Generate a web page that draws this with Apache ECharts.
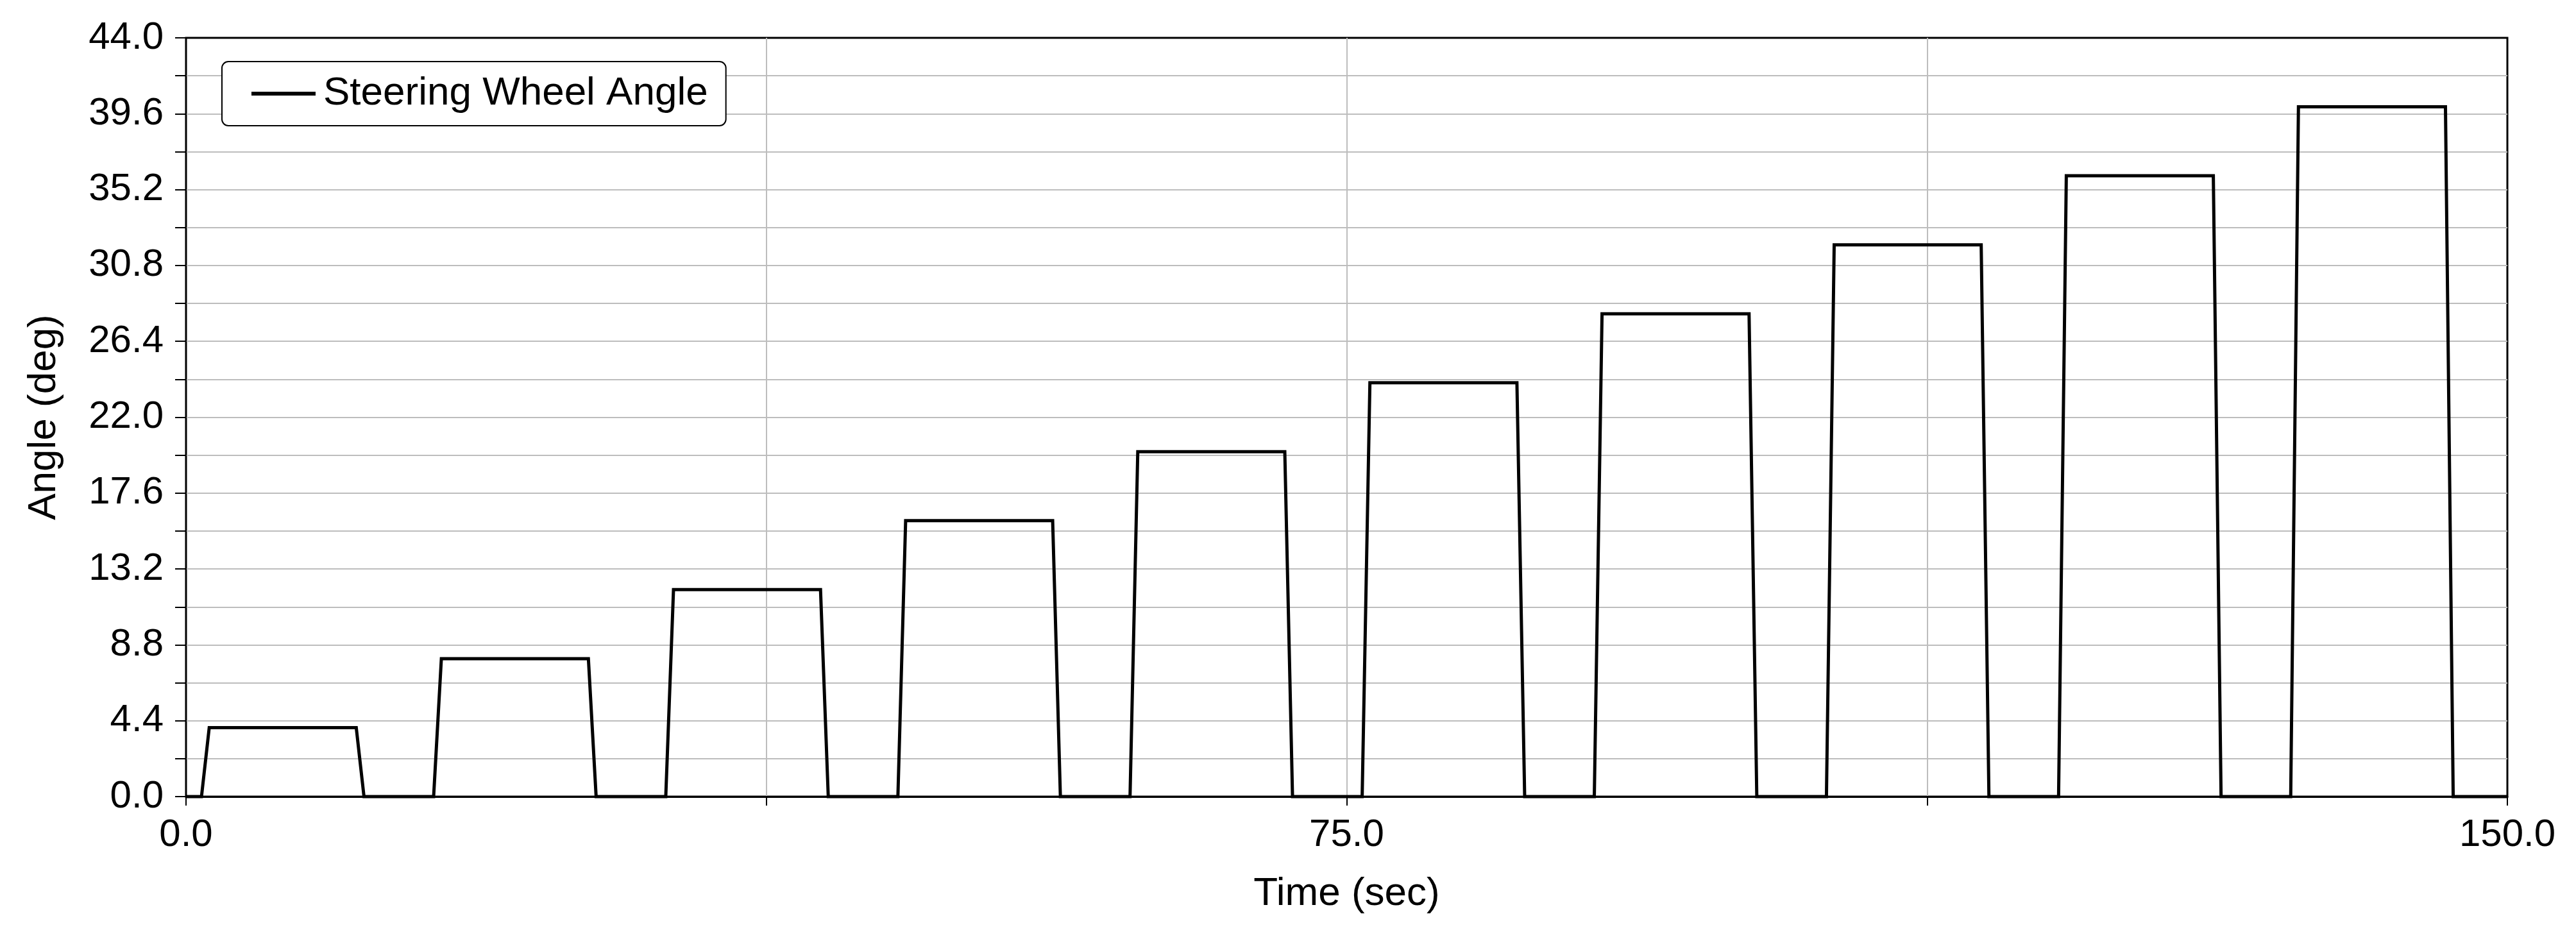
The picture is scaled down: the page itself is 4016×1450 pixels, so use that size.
<!DOCTYPE html>
<html>
<head>
<meta charset="utf-8">
<script src="https://cdn.jsdelivr.net/npm/echarts@6/dist/echarts.min.js"></script>
<style>
  html, body { margin: 0; padding: 0; background: #fff; }
  #chart { width: 4016px; height: 1450px; }
</style>
</head>
<body>
<div id="chart"></div>
<script>
// Steering wheel angle vs time
const seriesName = 'Steering Wheel Angle';
const timeSec = [0,
  1, 1.5, 11, 11.5,
  16, 16.5, 26, 26.5,
  31, 31.5, 41, 41.5,
  46, 46.5, 56, 56.5,
  61, 61.5, 71, 71.5,
  76, 76.5, 86, 86.5,
  91, 91.5, 101, 101.5,
  106, 106.5, 116, 116.5,
  121, 121.5, 131, 131.5,
  136, 136.5, 146, 146.5,
  150];
const angleDeg = [0,
  0, 4, 4, 0,
  0, 8, 8, 0,
  0, 12, 12, 0,
  0, 16, 16, 0,
  0, 20, 20, 0,
  0, 24, 24, 0,
  0, 28, 28, 0,
  0, 32, 32, 0,
  0, 36, 36, 0,
  0, 40, 40, 0,
  0];
const xLabelTicks = [0, 75, 150];

const chart = echarts.init(document.getElementById('chart'));
const font = '"Liberation Sans", Arial, sans-serif';

let points = timeSec.map((t, i) => [t, angleDeg[i]]);

let option = {
    backgroundColor: '#fff',
    animation: false,
    textStyle: { fontFamily: font, color: '#000' },
    grid: {
        left: 290,
        right: 107,
        top: 59,
        bottom: 208,
        show: true,
        borderColor: '#000',
        borderWidth: 3,
        backgroundColor: 'transparent'
    },
    legend: {
        left: 346,
        top: 96,
        padding: [11, 28, 11, 46],
        icon: 'rect',
        itemWidth: 100,
        itemHeight: 6,
        borderColor: '#000',
        borderWidth: 2,
        borderRadius: 10,
        backgroundColor: '#fff',
        itemStyle: { color: '#000' },
        textStyle: {
            fontFamily: font,
            fontSize: 62,
            color: '#000',
            lineHeight: 64,
            padding: [14, 0, 0, 7]
        },
        data: [seriesName]
    },
    xAxis: {
        type: 'value',
        min: 0,
        max: 150,
        interval: 37.5,
        name: 'Time (sec)',
        nameLocation: 'middle',
        nameGap: 121,
        nameTextStyle: { fontFamily: font, fontSize: 62, color: '#000' },
        axisLine: { show: true, lineStyle: { color: '#000', width: 3 } },
        axisTick: { show: true, length: 14, lineStyle: { color: '#000', width: 2 } },
        axisLabel: {
            margin: 30,
            fontFamily: font,
            fontSize: 60,
            color: '#000',
            showMinLabel: true,
            showMaxLabel: true,
            formatter: v => xLabelTicks.includes(v) ? v.toFixed(1) : ''
        },
        splitLine: {
            show: true,
            showMinLine: false,
            showMaxLine: false,
            lineStyle: { color: '#bdbdbd', width: 2 }
        }
    },
    yAxis: {
        type: 'value',
        min: 0,
        max: 44,
        interval: 4.4,
        name: 'Angle (deg)',
        nameLocation: 'middle',
        nameGap: 190,
        nameTextStyle: { fontFamily: font, fontSize: 62, color: '#000' },
        axisLine: { show: true, lineStyle: { color: '#000', width: 2 } },
        axisTick: { show: true, length: 17, lineStyle: { color: '#000', width: 2 } },
        minorTick: { show: true, splitNumber: 2, length: 17, lineStyle: { color: '#000', width: 2 } },
        axisLabel: {
            margin: 35,
            fontFamily: font,
            fontSize: 60,
            color: '#000',
            formatter: v => v.toFixed(1)
        },
        splitLine: {
            show: true,
            showMinLine: false,
            showMaxLine: false,
            lineStyle: { color: '#bdbdbd', width: 2 }
        },
        minorSplitLine: { show: true, lineStyle: { color: '#bdbdbd', width: 2 } }
    },
    series: [
        {
            name: seriesName,
            type: 'line',
            data: points,
            symbol: 'none',
            showSymbol: false,
            clip: false,
            lineStyle: { color: '#000', width: 5, join: 'miter', cap: 'butt' },
            itemStyle: { color: '#000' },
            z: 5
        }
    ]
};
chart.setOption(option);
</script>
</body>
</html>
